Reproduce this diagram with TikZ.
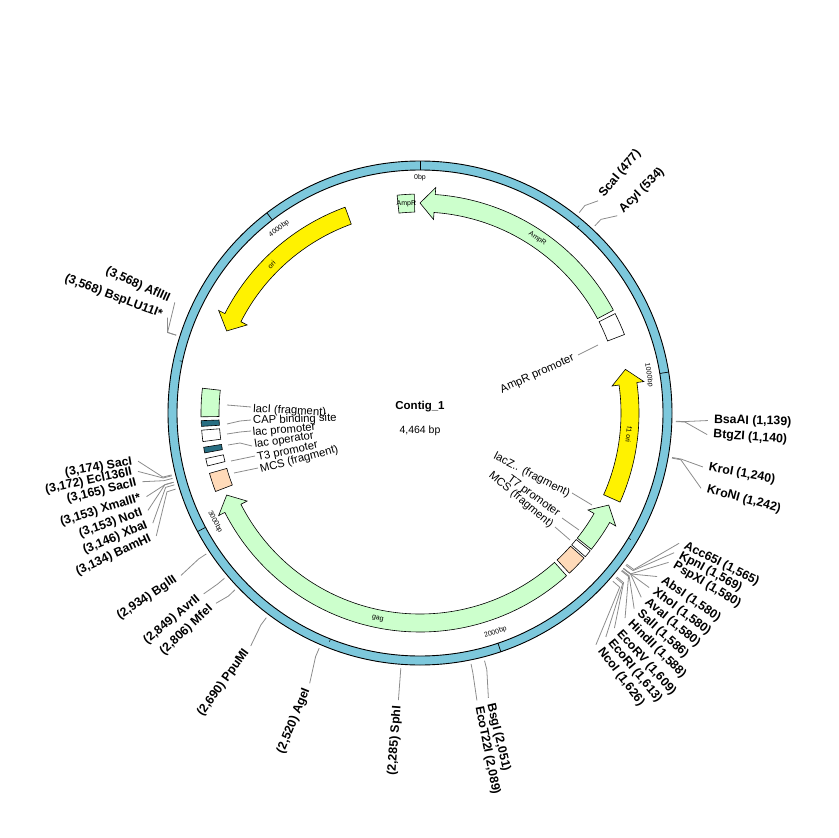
\documentclass[tikz,border=0pt]{standalone}
\usepackage{fontspec}
\setmainfont{Liberation Sans}
\begin{document}
\definecolor{ringc}{RGB}{125,200,220}
\definecolor{grn}{RGB}{204,255,204}
\definecolor{org}{RGB}{255,218,185}
\definecolor{teal}{RGB}{40,110,130}
\definecolor{ldr}{RGB}{140,140,140}
\tikzset{
 site/.style={font=\fontsize{12.3}{13}\selectfont\bfseries,inner sep=1pt},
 flab/.style={font=\fontsize{11.3}{12}\selectfont,inner sep=0pt,anchor=base west},
 tlab/.style={font=\fontsize{7}{8}\selectfont,inner sep=0pt},
 feat/.style={draw=black,line width=0.6pt},
 leader/.style={draw=ldr,line width=0.8pt}
}
\newcommand\band[3]{\filldraw[feat,fill=#3] ({#1-90}:201) arc[start angle={#1-90},end angle={#2-90},radius=201] -- ({#2-90}:219) arc[start angle={#2-90},end angle={#1-90},radius=219] -- cycle;}
\newcommand\arrcw[3]{\filldraw[feat,fill=#3] ({#1-90}:201) arc[start angle={#1-90},end angle={#2-94},radius=201] -- ({#2-94}:194) -- ({#2-90}:210) -- ({#2-94}:226) -- ({#2-94}:219) arc[start angle={#2-94},end angle={#1-90},radius=219] -- cycle;}
\newcommand\arrccw[3]{\filldraw[feat,fill=#3] ({#2-90}:201) arc[start angle={#2-90},end angle={#1-86},radius=201] -- ({#1-86}:194) -- ({#1-90}:210) -- ({#1-86}:226) -- ({#1-86}:219) arc[start angle={#1-86},end angle={#2-90},radius=219] -- cycle;}
\newcommand\rsite[4]{\draw[leader] ({#1-90}:256) -- ({#1-90}:265) -- ({#2-90}:{#3-5});
 \node[site,anchor=mid west,rotate={90-#2}] at ({#2-90}:#3) {#4};}
\newcommand\lsite[4]{\draw[leader] ({#1-90}:256) -- ({#1-90}:265) -- ({#2-90}:{#3-5});
 \node[site,anchor=mid east,rotate={270-#2}] at ({#2-90}:#3) {#4};}
\begin{tikzpicture}[x=1pt,y=-1pt]
\useasboundingbox (0,0) rectangle (839,838);
\begin{scope}[shift={(420,413)}]
\filldraw[fill=ringc,draw=black,line width=0.9pt,even odd rule] (0,0) circle[radius=252] (0,0) circle[radius=243];
\foreach \b in {500,1500,2500,3500}{\draw[line width=0.5pt] ({\b/4464*360-90}:243) -- ({\b/4464*360-90}:246);}
\foreach \b in {0,1000,2000,3000,4000}{\draw[line width=0.7pt] ({\b/4464*360-90}:243) -- ({\b/4464*360-90}:252);}
\node[tlab] at (-90:235) {0bp};
\node[tlab,rotate=-80.6] at (-9.4:232) {1000bp};
\node[tlab,rotate=19] at (71:232) {2000bp};
\node[tlab,rotate=-62] at (152:232) {3000bp};
\node[tlab,rotate=37.4] at (232.6:232) {4000bp};
\arrccw{0}{62}{grn}
\filldraw[feat,fill=grn] (-96:201) arc[start angle=-96,end angle=-91.5,radius=201] -- (-91.5:219) arc[start angle=-91.5,end angle=-96,radius=219] -- cycle;
\node[tlab] at (-93.7:210) {AmpR};
\node[tlab,rotate=-34] at (-56:210) {AmpR};
\band{63}{69}{white}
\arrccw{78}{114}{yellow}
\node[tlab,rotate=-96] at (6:210) {f1 ori};
\arrccw{116}{128.5}{grn}
\band{129}{131}{white}
\band{131.5}{137}{org}
\arrcw{138}{247}{grn}
\node[tlab,rotate=-11.6] at (101.6:210) {gag};
\band{249}{254}{org}
\band{256}{258}{white}
\band{259.5}{261}{teal}
\band{262.5}{265.5}{white}
\band{266.5}{268}{teal}
\band{269}{276.5}{grn}
\arrccw{293}{340}{yellow}
\node[tlab,rotate=45] at (225:210) {ori};
\end{scope}
\node[font=\fontsize{11.5}{12}\selectfont\bfseries] at (420,407) {Contig\_1};
\node[font=\fontsize{10.5}{11}\selectfont] at (420,431) {4,464 bp};
\draw[leader] (227,405) -- (251,407); \node[flab,rotate=-3] at (253,412) {lacI (fragment)};
\draw[leader] (227,424) -- (240,421) -- (251,420); \node[flab,rotate=2] at (253,424) {CAP binding site};
\draw[leader] (227,434) -- (240,432) -- (251,431); \node[flab,rotate=5] at (253,436) {lac promoter};
\draw[leader] (228,445) -- (240,443) -- (252,446); \node[flab,rotate=9] at (255,448) {lac operator};
\draw[leader] (231,461) -- (255,456); \node[flab,rotate=12] at (258,461) {T3 promoter};
\draw[leader] (234,473) -- (258,468); \node[flab,rotate=15] at (261,473) {MCS (fragment)};
\draw[leader] (578,355) -- (598,345); \node[flab,anchor=base east,rotate=24.4] at (575,360) {AmpR promoter};
\draw[leader] (572,493) -- (592,505); \node[flab,anchor=base east,rotate=-27] at (568,497) {lacZ.. (fragment)};
\draw[leader] (562,518) -- (579,530); \node[flab,anchor=base east,rotate=-36] at (557,517) {T7 promoter};
\draw[leader] (555,527) -- (570,540); \node[flab,anchor=base east,rotate=-40] at (550,528) {MCS (fragment)};
\begin{scope}[shift={(420,413)}]
\rsite{38.47}{40}{282}{ScaI (477)}
\rsite{43.06}{45}{284}{AcyI (534)}
\rsite{91.85}{91.5}{293}{BsaAI (1,139)}
\rsite{91.94}{94.3}{293}{BtgZI (1,140)}
\rsite{100}{100.8}{293}{KroI (1,240)}
\rsite{100.16}{105}{296}{KroNI (1,242)}
\rsite{126.2}{116.7}{295}{Acc65I (1,565)}
\rsite{126.5}{118.8}{295}{KpnI (1,569)}
\rsite{127.4}{121}{295}{PspXI (1,580)}
\rsite{127.4}{124.6}{293}{AbsI (1,580)}
\rsite{127.4}{127.3}{293}{XhoI (1,580)}
\rsite{127.4}{129.8}{293}{AvaI (1,580)}
\rsite{127.9}{132.4}{295}{SalI (1,586)}
\rsite{128.1}{135}{295}{HindII (1,588)}
\rsite{129.8}{137.9}{295}{EcoRV (1,609)}
\rsite{130.1}{140.3}{296}{EcoRI (1,613)}
\rsite{131.1}{142.8}{296}{NcoI (1,626)}
\rsite{165.4}{166.5}{298}{BsgI (2,051)}
\rsite{168.5}{168.8}{298}{EcoT22I (2,089)}
\lsite{184.3}{184.3}{293}{(2,285) SphI}
\lsite{203.2}{202.2}{297}{(2,520) AgeI}
\lsite{216.9}{216}{293}{(2,690) PpuMI}
\lsite{226.3}{227}{284}{(2,806) MfeI}
\lsite{229.8}{230.1}{287}{(2,849) AvrII}
\lsite{236.6}{235.8}{294}{(2,934) BglII}
\lsite{252.7}{245}{296}{(3,134) BamHI}
\lsite{253.7}{247.6}{294}{(3,146) XbaI}
\lsite{254.3}{250.3}{294}{(3,153) NotI}
\lsite{254.3}{253}{291}{(3,153) XmaIII*}
\lsite{255.2}{256.1}{291}{(3,165) SacII}
\lsite{255.8}{258.3}{293}{(3,172) Ecl136II}
\lsite{256}{260.3}{291}{(3,174) SacI}
\lsite{287.7}{294.3}{274}{(3,568) AflIII}
\lsite{287.7}{290.7}{275}{(3,568) BspLU11I*}
\end{scope}
\end{tikzpicture}
\end{document}
